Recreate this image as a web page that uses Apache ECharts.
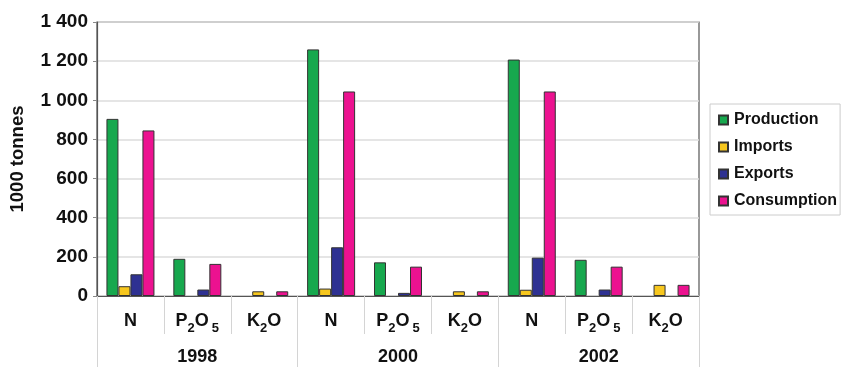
<!DOCTYPE html>
<html>
<head>
<meta charset="utf-8">
<script src="https://cdn.jsdelivr.net/npm/echarts@6/dist/echarts.min.js"></script>
<style>
  html, body { margin: 0; padding: 0; background: #fff; }
  #chart { width: 843px; height: 367px; }
</style>
</head>
<body>
<div id="chart"></div>
<script>
// Nutrient categories, repeated for each year group
const nutrients = ['N', 'P2O5', 'K2O', 'N', 'P2O5', 'K2O', 'N', 'P2O5', 'K2O'];
const years = ['1998', '2000', '2002'];

// Values in 1000 tonnes (null = no bar)
const production  = [905, 190, null, 1260, 172, null, 1208, 185, null];
const imports     = [50, null, 24, 38, null, 24, 32, null, 57];
const exports     = [111, 33, null, 249, 16, null, 196, 33, null];
const consumption = [846, 164, 24, 1045, 150, 24, 1045, 150, 57];

const yTicks = { min: 0, max: 1400, step: 200 };

const FONT = '"Liberation Sans", Arial, sans-serif';

function thousands(v) {
  return String(v).replace(/\B(?=(\d{3})+(?!\d))/g, ' ');
}

function nutrientLabel(v) {
  if (v === 'P2O5') return '{m|P}{s|2}{m|O}{t|5}';
  if (v === 'K2O') return '{m|K}{s|2}{m|O}';
  return '{m|' + v + '}';
}

const chart = echarts.init(document.getElementById('chart'), null, { renderer: 'canvas' });

const barStyle = (color) => ({
  color: color,
  borderColor: '#333',
  borderWidth: 1
});

const option = {
  animation: false,
  backgroundColor: '#fff',
  textStyle: { fontFamily: FONT },
  grid: {
    left: 97, right: 144, top: 22, bottom: 71,
    outerBoundsMode: 'none',
    containLabel: false,
    show: true,
    borderColor: '#555',
    borderWidth: 1.2,
    backgroundColor: 'transparent'
  },
  legend: {
    orient: 'vertical',
    left: 710,
    top: 104,
    padding: [8, 3, 6, 8],
    itemGap: 11,
    itemWidth: 9,
    itemHeight: 9,
    icon: 'rect',
    borderColor: '#ccc',
    borderWidth: 1,
    textStyle: {
      fontFamily: FONT,
      fontSize: 16,
      fontWeight: 'bold',
      color: '#111',
      lineHeight: 16,
      padding: [0, 0, 0, 1]
    },
    data: ['Production', 'Imports', 'Exports', 'Consumption']
  },
  xAxis: [
    {
      type: 'category',
      data: nutrients,
      position: 'bottom',
      axisLine: { show: true, lineStyle: { color: '#555', width: 1.2 } },
      axisTick: {
        show: true, interval: 0, length: 38, inside: false,
        lineStyle: { color: '#d4d4d4', width: 1 }
      },
      axisLabel: {
        interval: 0,
        margin: 16,
        formatter: nutrientLabel,
        rich: {
          m: { fontFamily: FONT, fontSize: 18, fontWeight: 'bold', color: '#111', lineHeight: 18, verticalAlign: 'top' },
          s: { fontFamily: FONT, fontSize: 13, fontWeight: 'bold', color: '#111', lineHeight: 23, verticalAlign: 'bottom' },
          t: { fontFamily: FONT, fontSize: 13, fontWeight: 'bold', color: '#111', lineHeight: 23, verticalAlign: 'bottom', padding: [0, 0, 0, 3] }
        }
      },
      splitLine: { show: false }
    },
    {
      type: 'category',
      data: years,
      position: 'bottom',
      offset: 0,
      axisLine: { show: false },
      axisTick: {
        show: true, interval: 0, length: 71,
        lineStyle: { color: '#d4d4d4', width: 1 }
      },
      axisLabel: {
        interval: 0,
        margin: 52,
        fontFamily: FONT,
        fontSize: 18,
        fontWeight: 'bold',
        color: '#111'
      },
      splitLine: { show: false }
    }
  ],
  yAxis: {
    type: 'value',
    min: yTicks.min,
    max: yTicks.max,
    interval: yTicks.step,
    name: '1000 tonnes',
    nameLocation: 'middle',
    nameRotate: 90,
    nameGap: 70,
    nameTextStyle: { fontFamily: FONT, fontSize: 18.5, fontWeight: 'bold', color: '#111' },
    axisLine: { show: true, lineStyle: { color: '#555', width: 1.2 } },
    axisTick: { show: true, length: 4, lineStyle: { color: '#888' } },
    axisLabel: {
      margin: 9,
      fontFamily: FONT,
      fontSize: 19,
      fontWeight: 'bold',
      color: '#111',
      formatter: thousands
    },
    splitLine: { show: true, lineStyle: { color: '#dcdcdc', width: 1.5 } }
  },
  series: [
    { name: 'Production',  type: 'bar', xAxisIndex: 0, data: production,  barWidth: 12, barGap: '0%', itemStyle: barStyle('#17a84e') },
    { name: 'Imports',     type: 'bar', xAxisIndex: 0, data: imports,     barWidth: 12, barGap: '0%', itemStyle: barStyle('#f7c71e') },
    { name: 'Exports',     type: 'bar', xAxisIndex: 0, data: exports,     barWidth: 12, barGap: '0%', itemStyle: barStyle('#2e3192') },
    { name: 'Consumption', type: 'bar', xAxisIndex: 0, data: consumption, barWidth: 12, barGap: '0%', itemStyle: barStyle('#ec1290') }
  ]
};

chart.setOption(option);
</script>
</body>
</html>
